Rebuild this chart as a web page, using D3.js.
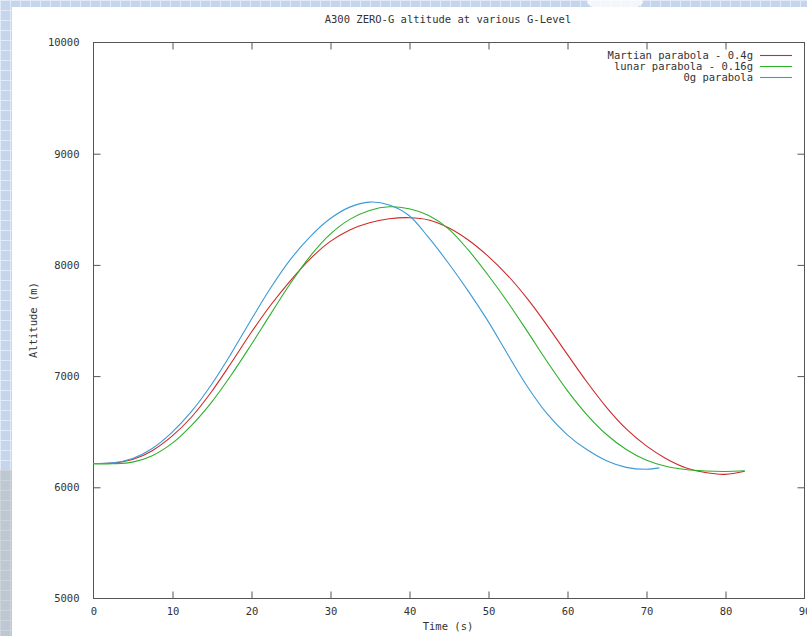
<!DOCTYPE html>
<html>
<head>
<meta charset="utf-8">
<style>
  body { margin: 0; background: #fff; }
  svg { display: block; }
  text { font-family: "DejaVu Sans Mono", monospace; fill: #333; }
</style>
</head>
<body>
<svg id="chart" width="807" height="636"></svg>

<script src="https://cdn.jsdelivr.net/npm/d3@7"></script>
<script>
// time (s) for the two reduced-g parabolas
let timesLong = [0, 2.5, 5, 7.5, 10, 12.5, 15, 17.5, 20, 22.5, 25, 27.5, 30, 32.5, 35, 37.5, 40,
  42.5, 45, 47.5, 50, 52.5, 55, 57.5, 60, 62.5, 65, 67.5, 70, 72.5, 75, 77.5, 80, 82.5]
// time (s) for the 0g parabola (ends earlier)
let timesShort = [0, 2.5, 5, 7.5, 10, 12.5, 15, 17.5, 20, 22.5, 25, 27.5, 30, 32.5, 35, 37.5, 40,
  42.5, 45, 47.5, 50, 52.5, 55, 57.5, 60, 62.5, 65, 67.5, 70, 71.7]

let martian = [6210, 6213, 6245, 6325, 6455, 6630, 6855, 7115, 7385, 7635, 7855, 8050, 8205, 8310, 8375, 8410, 8420,
  8400, 8330, 8220, 8075, 7900, 7690, 7450, 7195, 6945, 6715, 6520, 6370, 6255, 6172, 6128, 6112, 6140]
let lunar = [6205, 6207, 6222, 6280, 6390, 6555, 6760, 7005, 7275, 7555, 7830, 8075, 8270, 8405, 8485, 8518, 8500,
  8440, 8320, 8130, 7905, 7660, 7395, 7125, 6870, 6650, 6470, 6335, 6240, 6185, 6155, 6142, 6138, 6144]
let zeroG = [6210, 6215, 6255, 6345, 6490, 6680, 6920, 7200, 7500, 7790, 8045, 8250, 8410, 8515, 8560, 8535, 8440,
  8240, 8010, 7760, 7490, 7190, 6900, 6655, 6470, 6335, 6235, 6175, 6158, 6170]

let xTicks = [0, 10, 20, 30, 40, 50, 60, 70, 80, 90]
let yTicks = [5000, 6000, 7000, 8000, 9000, 10000]

let seriesNames = ["Martian parabola - 0.4g", "lunar parabola - 0.16g", "0g parabola"]
let seriesColors = ["#cc2a2a", "#2cb02c", "#3b9ad6"]

let svg = d3.select("#chart")

// page background: light blue tiles behind a white sheet
let defs = svg.append("defs")
let pat = defs.append("pattern")
  .attr("id", "tiles")
  .attr("width", 10).attr("height", 10)
  .attr("patternUnits", "userSpaceOnUse")
pat.append("rect").attr("width", 10).attr("height", 10).attr("fill", "#c4d5ec")
pat.append("path").attr("d", "M0 0.5H10M0.5 0V10").attr("stroke", "#e1eaf6").attr("stroke-width", 1)

svg.append("rect").attr("width", 807).attr("height", 636).attr("fill", "url(#tiles)")
svg.append("rect").attr("x", 0).attr("y", 470).attr("width", 12).attr("height", 166)
  .attr("fill", "#b8b8b8").attr("opacity", 0.45)
svg.append("ellipse").attr("cx", 615).attr("cy", 2).attr("rx", 28).attr("ry", 8)
  .attr("fill", "#fff").attr("opacity", 0.8)
svg.append("rect").attr("x", 12).attr("y", 7).attr("width", 795).attr("height", 629).attr("fill", "#fff")

let x = d3.scaleLinear().domain([0, 90]).range([93, 804])
let y = d3.scaleLinear().domain([5000, 10000]).range([598, 42])

// frame
svg.append("rect")
  .attr("x", x(0) + 0.5).attr("y", y(10000) + 0.5)
  .attr("width", x(90) - x(0)).attr("height", y(5000) - y(10000))
  .attr("fill", "none").attr("stroke", "#555").attr("stroke-width", 1)

// axes with inward ticks (gnuplot style)
let axBottom = svg.append("g").attr("transform", `translate(0.5,${y(5000) + 0.5})`)
  .call(d3.axisBottom(x).tickValues(xTicks).tickSize(-7).tickPadding(9))
let axTop = svg.append("g").attr("transform", `translate(0.5,${y(10000) + 0.5})`)
  .call(d3.axisTop(x).tickValues(xTicks).tickSize(-7).tickFormat(""))
let axLeft = svg.append("g").attr("transform", `translate(${x(0) + 0.5},0.5)`)
  .call(d3.axisLeft(y).tickValues(yTicks).tickSize(-7).tickPadding(14).tickFormat(d3.format("d")))
let axRight = svg.append("g").attr("transform", `translate(${x(90) + 0.5},0.5)`)
  .call(d3.axisRight(y).tickValues(yTicks).tickSize(-7).tickFormat(""))

;[axBottom, axTop, axLeft, axRight].forEach(g => {
  g.select(".domain").remove()
  g.selectAll(".tick line").attr("stroke", "#555")
  g.selectAll(".tick text").attr("fill", "#444")
    .style("font-family", "'DejaVu Sans Mono', monospace").style("font-size", "10.5px")
})
axLeft.selectAll(".tick").filter(d => d === 10000 || d === 5000).select("line").remove()
axRight.selectAll(".tick").filter(d => d === 10000 || d === 5000).remove()
axTop.selectAll(".tick").filter(d => d === 0 || d === 90).remove()
axBottom.selectAll(".tick").filter(d => d === 0 || d === 90).select("line").remove()

// titles
svg.append("text").attr("x", 448).attr("y", 23).attr("text-anchor", "middle")
  .style("font-size", "10.5px").text("A300 ZERO-G altitude at various G-Level")
svg.append("text").attr("x", 448).attr("y", 630).attr("text-anchor", "middle")
  .style("font-size", "10.5px").text("Time (s)")
svg.append("text").attr("transform", "translate(37,320) rotate(-90)").attr("text-anchor", "middle")
  .style("font-size", "10.5px").text("Altitude (m)")

// curves
let line = d3.line()
  .x(d => x(d[0]))
  .y(d => y(d[1]))
  .curve(d3.curveCatmullRom.alpha(0.5))

let series = [
  d3.zip(timesLong, martian),
  d3.zip(timesLong, lunar),
  d3.zip(timesShort, zeroG)
]

series.forEach((pts, i) => {
  svg.append("path")
    .attr("d", line(pts))
    .attr("fill", "none")
    .attr("stroke", seriesColors[i])
    .attr("stroke-width", 1.1)
})

// legend
seriesNames.forEach((name, i) => {
  let ly = 55 + i * 11
  svg.append("text").attr("x", 753).attr("y", ly + 4).attr("text-anchor", "end")
    .style("font-size", "10.5px").text(name)
  svg.append("line").attr("x1", 760).attr("x2", 792).attr("y1", ly + 0.5).attr("y2", ly + 0.5)
    .attr("stroke", seriesColors[i]).attr("stroke-width", 1.1)
})
</script>
</body>
</html>
